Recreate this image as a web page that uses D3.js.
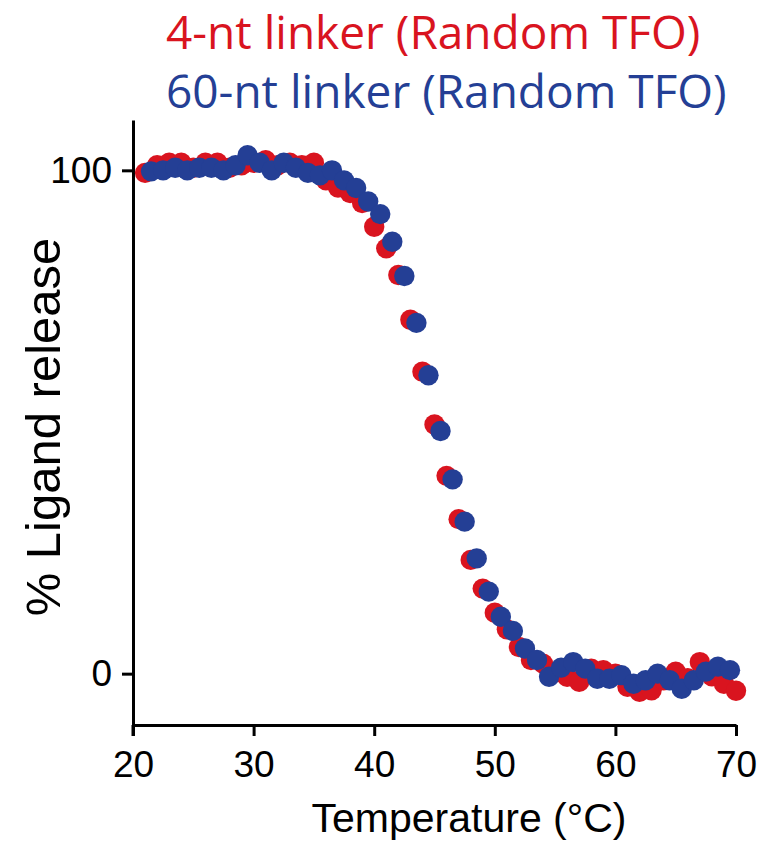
<!DOCTYPE html>
<html>
<head>
<meta charset="utf-8">
<script src="https://cdn.jsdelivr.net/npm/d3@7"></script>
<style>
  body { margin: 0; background: #fff; }
  svg text { font-family: "Liberation Sans", Arial, sans-serif; }
</style>
</head>
<body>
<script>
// melt curves, temperature (°C) vs % ligand release
var redTemps = [21,22,23,24,25,26,27,28,29,30,31,32,33,34,35,36,37,38,39,40,
                41,42,43,44,45,46,47,48,49,50,51,52,53,54,55,56,57,58,59,60,
                61,62,63,64,65,66,67,68,69,70];
var redVals = [99.5,101,101.5,101.5,100.5,101.5,101.5,100.5,101,101.5,102,101,101.5,101,101.5,98,96.6,95.5,93.5,88.8,
               84.5,79.2,70.3,60.0,49.5,39.3,30.7,22.6,16.9,12.1,8.8,5.3,2.7,2.0,0.2,-0.6,-1.6,1.0,0.7,0,
               -2.6,-3.6,-3.3,-1.3,0.4,-0.9,2.3,-0.5,-2.0,-3.4];

var blueTemps = [21.5,22.5,23.5,24.5,25.5,26.5,27.5,28.5,29.5,30.5,31.5,32.5,33.5,34.5,35.5,36.5,37.5,38.5,39.5,40.5,
                 41.5,42.5,43.5,44.5,45.5,46.5,47.5,48.5,49.5,50.5,51.5,52.5,53.5,54.5,55.5,56.5,57.5,58.5,59.5,60.5,
                 61.5,62.5,63.5,64.5,65.5,66.5,67.5,68.5,69.5];
var blueVals = [99.8,100,100.5,100,100.5,100.5,100,101,103,101.5,100,101.5,100.5,99.5,99,100,98,96.5,93.8,91.3,
                85.8,79.0,69.7,59.3,48.2,38.6,30.2,22.9,16.3,11.3,8.5,5.0,2.7,-0.6,1.2,2.3,1.0,-1.0,-1.0,-0.3,
                -2.0,-1.3,0,-1.3,-3.0,-1.3,0.4,1.4,0.7];

var xTicks = [20,30,40,50,60,70];
var yTicks = [0,100];
var legendLabels = ["4-nt linker (Random TFO)", "60-nt linker (Random TFO)"];
var colors = ["#d9141f", "#243f95"];

var width = 768, height = 843;

var svg = d3.select("body").append("svg")
    .attr("width", width)
    .attr("height", height);

var x = d3.scaleLinear().domain([20, 70]).range([133, 736]);
var y = d3.scaleLinear().domain([-10.2, 110]).range([725, 120]);

// axes
var xAxis = svg.append("g")
    .attr("transform", "translate(0,725)")
    .call(d3.axisBottom(x).tickValues(xTicks).tickSize(11).tickPadding(15).tickSizeOuter(0));
var yAxis = svg.append("g")
    .attr("transform", "translate(133,0)")
    .call(d3.axisLeft(y).tickValues(yTicks).tickSize(11).tickPadding(10).tickSizeOuter(0));

svg.append("line")
    .attr("x1", 133).attr("x2", 133)
    .attr("y1", 725).attr("y2", 736)
    .attr("stroke", "#000").attr("stroke-width", 3);

[xAxis, yAxis].forEach(function(g) {
    g.select(".domain").attr("stroke-width", 3);
    g.selectAll(".tick line").attr("stroke-width", 3);
    g.selectAll(".tick text")
        .style("font-family", "'Liberation Sans', Arial, sans-serif")
        .style("font-size", "37px")
        .attr("fill", "#000");
});

// red first, blue over it
var series = [
    {t: redTemps, v: redVals, c: colors[0]},
    {t: blueTemps, v: blueVals, c: colors[1]}
];
series.forEach(function(s) {
    svg.append("g").selectAll("circle")
        .data(s.t.map(function(t, i) { return [t, s.v[i]]; }))
        .enter().append("circle")
        .attr("cx", function(d) { return x(d[0]); })
        .attr("cy", function(d) { return y(d[1]); })
        .attr("r", 10.2)
        .attr("fill", s.c);
});

// axis titles
svg.append("text")
    .attr("x", 469).attr("y", 832)
    .attr("text-anchor", "middle")
    .style("font-size", "41px")
    .text("Temperature (°C)");

svg.append("text")
    .attr("transform", "translate(60,427) rotate(-90)")
    .attr("text-anchor", "middle")
    .style("font-size", "49px")
    .text("% Ligand release");

// legend
legendLabels.forEach(function(lab, i) {
    svg.append("text")
        .attr("x", 166).attr("y", 49 + i * 59)
        .attr("fill", colors[i])
        .style("font-family", "'Open Sans', 'Noto Sans', sans-serif")
        .style("font-size", "46px")
        .text(lab);
});
</script>
</body>
</html>
